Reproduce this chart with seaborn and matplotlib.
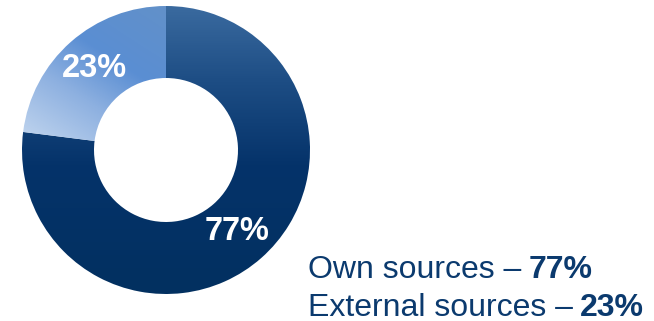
import numpy as np
import matplotlib
matplotlib.use("Agg")
import matplotlib.pyplot as plt
from matplotlib.colors import LinearSegmentedColormap
import seaborn as sns

# Funding structure
labels = ["Own sources", "External sources"]
shares = [77, 23]

sns.set_theme(style="white")
plt.rcParams["font.family"] = ["Liberation Sans", "DejaVu Sans"]

NAVY = "#0B3A6E"
W, H = 654, 321
fig = plt.figure(figsize=(W / 100, H / 100), dpi=100)
ax = fig.add_axes([0, 0, 1, 1])
ax.set_axis_off()

cx, cy, R = 166, 171, 144
wedges, _, autotexts = ax.pie(
    shares, radius=R, center=(cx, cy), startangle=90, counterclock=False,
    autopct="%d%%", pctdistance=0.75,
    wedgeprops=dict(width=R / 2, linewidth=0),
    textprops=dict(color="white", fontsize=23.5, fontweight="bold"),
)
ax.set_xlim(0, W)
ax.set_ylim(0, H)
ax.set_aspect("equal")

# Gradient fills clipped to each ring segment
extent = (cx - R, cx + R, cy - R, cy + R)
n = 300
yy, xx = np.mgrid[0:1:n * 1j, 0:1:n * 1j]  # yy=0 at bottom (origin lower)

own_cmap = LinearSegmentedColormap.from_list(
    "own", [(0.0, "#023060"), (0.45, "#05336A"), (0.75, "#1E4E85"), (1.0, "#3A6A9F")])
img1 = ax.imshow(yy, cmap=own_cmap, extent=extent, origin="lower",
                 interpolation="bilinear", zorder=1)
img1.set_clip_path(wedges[0])

# diagonal gradient for the external slice: light lower-left to mid blue upper-right
t = (xx * 0.55 + yy * 0.85)
t = (t - 0.45) / 0.7
t = np.clip(t, 0, 1)
ext_cmap = LinearSegmentedColormap.from_list(
    "ext", [(0.0, "#C2D6EF"), (0.35, "#8DB0E0"), (0.6, "#5A8ED3"), (1.0, "#6391C8")])
img2 = ax.imshow(t, cmap=ext_cmap, extent=extent, origin="lower",
                 interpolation="bilinear", zorder=1)
img2.set_clip_path(wedges[1])

for w in wedges:
    w.set_facecolor("none")
for at in autotexts:
    at.set_zorder(3)

# Two-line legend with bold values
y1, y2 = H - 278, H - 316
for lab, val, y in zip(labels, shares, (y1, y2)):
    t1 = ax.text(308, y, f"{lab} \u2013", fontsize=23, color=NAVY,
                 ha="left", va="baseline", zorder=4)
    ax.annotate(f"{val}%", xy=(1, 0), xycoords=t1, xytext=(5, 0),
                textcoords="offset points", fontsize=23, fontweight="bold",
                color=NAVY, ha="left", va="bottom", zorder=4)

fig.savefig("out.png", dpi=100)
